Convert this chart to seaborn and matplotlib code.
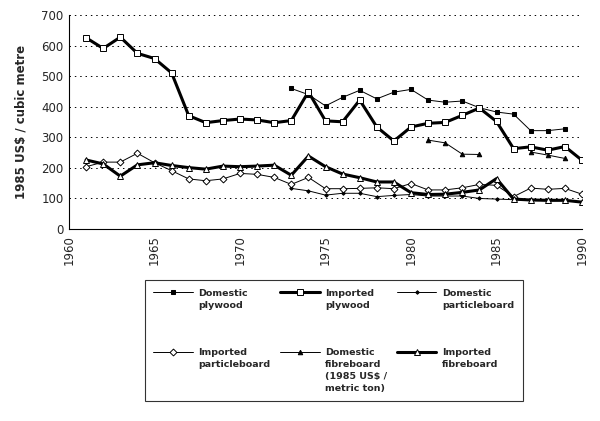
import numpy as np
import pandas as pd
import matplotlib
matplotlib.use('Agg')
import matplotlib.pyplot as plt
import seaborn as sns

# ----------------------------------------------------------------------------------
# data (1985 US$ per cubic metre)
# ----------------------------------------------------------------------------------
years = list(range(1961, 1991))

imported_plywood = [626, 591, 628, 575, 558, 511, 371, 348, 355, 360,
                    357, 348, 355, 449, 354, 351, 422, 334, 288, 334,
                    346, 349, 372, 396, 352, 263, 269, 258, 270, 225]

domestic_plywood_years = list(range(1973, 1990))
domestic_plywood = [460, 440, 403, 431, 454, 426, 448, 457, 422, 415,
                    419, 397, 383, 376, 322, 322, 328]

imported_fibreboard = [226, 213, 173, 210, 217, 208, 201, 196, 206, 204,
                       206, 209, 176, 239, 204, 180, 168, 154, 154, 119,
                       113, 114, 120, 128, 165, 98, 95, 94, 94, 88]

imported_particleboard = [204, 219, 219, 248, 217, 191, 164, 158, 164, 182,
                          179, 169, 146, 169, 132, 132, 133, 135, 132, 149,
                          128, 128, 135, 146, 143, 106, 134, 130, 133, 114]

domestic_particleboard_years = list(range(1973, 1991))
domestic_particleboard = [133, 125, 111, 117, 117, 106, 110, 113, 108, 108,
                          108, 100, 98, 96, 95, 92, 93, 88]

# domestic fibreboard (1985 US$ / metric ton), two separate runs
domestic_fibreboard_years_a = [1981, 1982, 1983, 1984]
domestic_fibreboard_a = [291, 282, 245, 244]
domestic_fibreboard_years_b = [1987, 1988, 1989]
domestic_fibreboard_b = [252, 242, 231]

# ----------------------------------------------------------------------------------
# plot
# ----------------------------------------------------------------------------------
sns.set_style('white')
plt.rcParams['font.family'] = ['DejaVu Sans']

fig = plt.figure(figsize=(6, 4.21), dpi=100)
ax = fig.add_axes([0.115, 0.456, 0.855, 0.508])

thin = dict(color='black', linewidth=0.7, markeredgecolor='black')
thick = dict(color='black', linewidth=2.2, markeredgecolor='black')

sns.lineplot(x=domestic_plywood_years, y=domestic_plywood, ax=ax, marker='s',
             markersize=3.2, markerfacecolor='black', label='Domestic\nplywood', **thin)
sns.lineplot(x=years, y=imported_plywood, ax=ax, marker='s', markersize=4.2,
             markerfacecolor='white', markeredgewidth=0.7, label='Imported\nplywood', **thick)
sns.lineplot(x=domestic_particleboard_years, y=domestic_particleboard, ax=ax, marker='D',
             markersize=1.8, markerfacecolor='black', label='Domestic\nparticleboard', **thin)
sns.lineplot(x=years, y=imported_particleboard, ax=ax, marker='D', markersize=3.5,
             markerfacecolor='white', markeredgewidth=0.7, label='Imported\nparticleboard', **thin)
sns.lineplot(x=domestic_fibreboard_years_a, y=domestic_fibreboard_a, ax=ax, marker='^',
             markersize=3.2, markerfacecolor='black',
             label='Domestic\nfibreboard\n(1985 US$ /\nmetric ton)', **thin)
sns.lineplot(x=domestic_fibreboard_years_b, y=domestic_fibreboard_b, ax=ax, marker='^',
             markersize=3.2, markerfacecolor='black', **thin)
sns.lineplot(x=years, y=imported_fibreboard, ax=ax, marker='^', markersize=4.2,
             markerfacecolor='white', markeredgewidth=0.7, label='Imported\nfibreboard', **thick)

# axes styling
ax.set_xlim(1960, 1990)
ax.set_ylim(0, 700)
ax.set_xticks(range(1960, 1991, 5))
ax.set_yticks(range(0, 701, 100))
ax.tick_params(axis='x', labelrotation=90, direction='inout', length=5, width=0.8,
               labelsize=8.5, pad=2)
ax.tick_params(axis='y', direction='inout', length=4, width=0.8, labelsize=8.5, pad=2)
for s in ['top', 'right']:
    ax.spines[s].set_visible(False)
for s in ['left', 'bottom']:
    ax.spines[s].set_color('black')
    ax.spines[s].set_linewidth(0.8)
for v in range(100, 701, 100):
    ax.axhline(v, color='black', linewidth=0.7, linestyle=(0, (1.5, 4)), zorder=0)
ax.set_xlabel('')
ax.set_ylabel('1985 US$ / cubic metre', fontsize=8.5, fontweight='bold', labelpad=10)

# legend, row-wise order in 3 columns
handles, labels = ax.get_legend_handles_labels()
ax.get_legend().remove()
order = [0, 3, 1, 4, 2, 5]
leg = fig.legend([handles[i] for i in order], [labels[i] for i in order],
                 loc='upper left', bbox_to_anchor=(0.233, 0.345), ncol=3,
                 frameon=True, fancybox=False, edgecolor='black',
                 prop={'size': 6.8, 'weight': 'bold'}, handlelength=4.2,
                 handletextpad=0.6, columnspacing=1.0, labelspacing=4.1,
                 borderpad=0.9)
leg.get_frame().set_linewidth(0.8)
for t in leg.get_texts():
    t.set_linespacing(1.4)
# put each legend line at the level of the first text line
leg._legend_handle_box.align = 'top'
for col in leg._legend_handle_box.get_children():
    for entry in col.get_children():
        entry.align = 'top'

plt.savefig('out.png', dpi=100)
